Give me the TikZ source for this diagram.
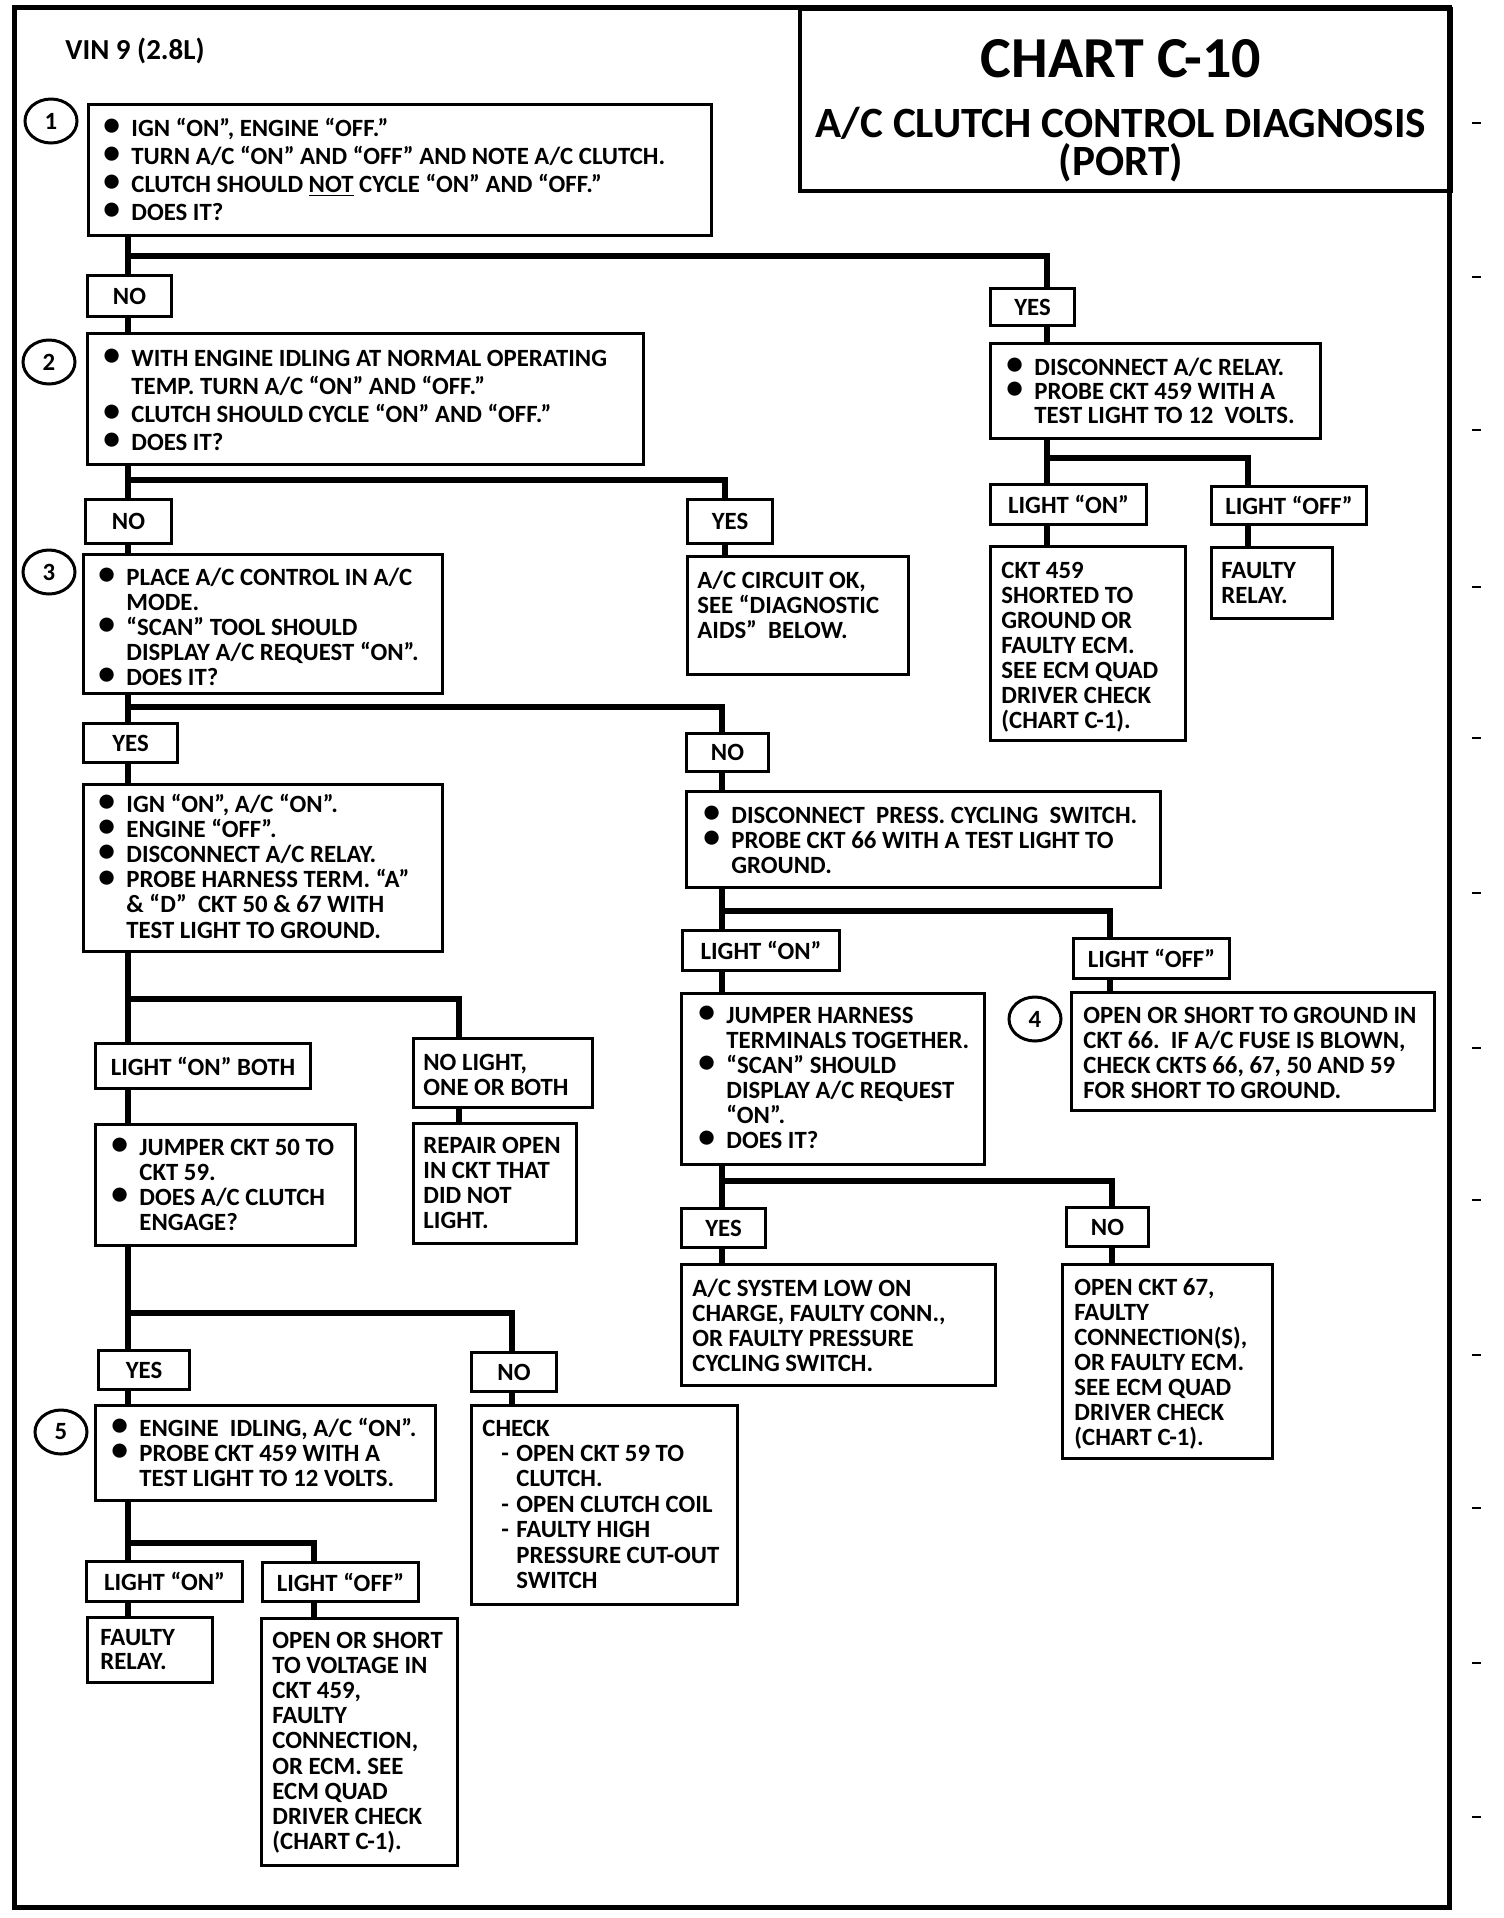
\documentclass[tikz,border=0pt]{standalone}
\usepackage{fontspec}
\setmainfont{Carlito}
\usepackage{graphicx}
\usetikzlibrary{shapes.geometric,calc}
\newcommand\bodyfont{\fontsize{12.4pt}{14pt}\selectfont\bfseries}
\newcommand\Ln[1]{\hbox{#1}}
\newcommand\lns[2]{\vtop{\baselineskip=#1\lineskiplimit=-30pt\lineskip=0pt\relax #2}}
\newcommand\bl{\makebox[14pt][l]{\raisebox{0.3pt}{\scalebox{1.35}{\textbullet}}}}
\newcommand\indd{\hspace*{14pt}}
\newcommand\dsh{\hspace*{9.5pt}\makebox[7.5pt][l]{-}}
\newcommand\dind{\hspace*{17pt}}
\newcommand\bx[5]{\node[box,minimum width={(#4-#2)*0.5pt},minimum height={(#5-#3)*0.5pt}] (#1) at (#2,#3) {};}
\newcommand\lbx[6]{\node[box,minimum width={(#4-#2)*0.5pt},minimum height={(#5-#3)*0.5pt}] (#1) at (#2,#3) {#6};}
\begin{document}
\begin{tikzpicture}[x=0.5pt,y=-0.5pt,
  box/.style={draw,line width=1.5pt,rectangle,inner sep=0pt,anchor=north west,font=\bodyfont},
  conn/.style={line width=3pt,line cap=rect},
  txt/.style={anchor=base west,inner sep=0pt,font=\bodyfont},
  num/.style={draw,line width=1.5pt,ellipse,inner sep=0pt,minimum width=26pt,minimum height=22pt,font=\bodyfont}]
\useasboundingbox[fill=white] (0,0) rectangle (1504,1918);
\draw[line width=2.5pt] (14,7) rectangle (1449,1907);
\foreach \yy in {123,277,430,587,738,893,1048,1200,1355,1508,1663,1817}
  \draw[line width=1pt] (1472,\yy) -- (1481,\yy);
% title
\node[draw,line width=2pt,rectangle,inner sep=0pt,anchor=north west,minimum width={(1449-798)*0.5pt},minimum height={(189-7)*0.5pt}] (title) at (798,7) {};
\node[anchor=base,inner sep=0pt,font=\fontsize{29pt}{30pt}\selectfont\bfseries] (t1) at (1121,77) {CHART C-10};
\node[anchor=base,inner sep=0pt,font=\fontsize{21.6pt}{22pt}\selectfont\bfseries] (t2) at (1121,137) {A/C CLUTCH CONTROL DIAGNOSIS};
\node[anchor=base,inner sep=0pt,font=\fontsize{21.6pt}{22pt}\selectfont\bfseries] (t3) at (1121,175) {(PORT)};
\node[anchor=base west,inner sep=0pt,font=\fontsize{14.5pt}{15pt}\selectfont\bfseries] (vin) at (65,59) {VIN 9 (2.8L)};
% circles
\node[num] (c1) at (51,121) {1};
\node[num] (c2) at (49,362) {2};
\node[num] (c3) at (49,572) {3};
\node[num] (c4) at (1035,1019) {4};
\node[num] (c5) at (61,1432) {5};
% boxes
\bx{b1}{87}{103}{710}{234}
\node[txt] (b1t) at (103,136) {\lns{14pt}{%
 \Ln{\bl IGN “ON”, ENGINE “OFF.”}
 \Ln{\bl TURN A/C “ON” AND “OFF” AND NOTE A/C CLUTCH.}
 \Ln{\bl CLUTCH SHOULD \underline{NOT} CYCLE “ON” AND “OFF.”}
 \Ln{\bl DOES IT?}}};
\lbx{no1}{86}{274}{170}{315}{NO}
\lbx{yes1}{989}{287}{1073}{324}{YES}
\bx{r1}{989}{342}{1319}{437}
\node[txt] (r1t) at (1006,375) {\lns{12pt}{%
 \Ln{\bl DISCONNECT A/C RELAY.}
 \Ln{\bl PROBE CKT 459 WITH A}
 \Ln{\indd TEST LIGHT TO 12\ \ VOLTS.}}};
\lbx{r1on}{989}{483}{1145}{523}{LIGHT “ON”}
\lbx{r1off}{1210}{485}{1365}{523}{LIGHT “OFF”}
\bx{r1ckt}{989}{545}{1184}{739}
\node[txt] (r1ckt-t) at (1001,578) {\lns{12.5pt}{%
 \Ln{CKT 459}\Ln{SHORTED TO}\Ln{GROUND OR}\Ln{FAULTY ECM.}
 \Ln{SEE ECM QUAD}\Ln{DRIVER CHECK}\Ln{(CHART C-1).}}};
\bx{r1rel}{1210}{546}{1331}{617}
\node[txt] (r1rel-t) at (1221,578) {\lns{12.5pt}{\Ln{FAULTY}\Ln{RELAY.}}};
\bx{b2}{86}{332}{642}{463}
\node[txt] (b2t) at (103,366) {\lns{14pt}{%
 \Ln{\bl WITH ENGINE IDLING AT NORMAL OPERATING}
 \Ln{\indd TEMP. TURN A/C “ON” AND “OFF.”}
 \Ln{\bl CLUTCH SHOULD CYCLE “ON” AND “OFF.”}
 \Ln{\bl DOES IT?}}};
\lbx{no2}{84}{498}{170}{542}{NO}
\lbx{yes2}{686}{498}{771}{542}{YES}
\bx{okbox}{686}{555}{907}{673}
\node[txt] (okt) at (697,588) {\lns{12.5pt}{%
 \Ln{A/C CIRCUIT OK,}\Ln{SEE “DIAGNOSTIC}\Ln{AIDS”\ \ BELOW.}}};
\bx{b3}{82}{553}{441}{692}
\node[txt] (b3t) at (98,585) {\lns{12.5pt}{%
 \Ln{\bl PLACE A/C CONTROL IN A/C}
 \Ln{\indd MODE.}
 \Ln{\bl “SCAN” TOOL SHOULD}
 \Ln{\indd DISPLAY A/C REQUEST “ON”.}
 \Ln{\bl DOES IT?}}};
\lbx{yes3}{82}{722}{176}{761}{YES}
\lbx{no3}{685}{732}{767}{770}{NO}
\bx{b4}{82}{783}{441}{950}
\node[txt] (b4t) at (98,812) {\lns{12.6pt}{%
 \Ln{\bl IGN “ON”, A/C “ON”.}
 \Ln{\bl ENGINE “OFF”.}
 \Ln{\bl DISCONNECT A/C RELAY.}
 \Ln{\bl PROBE HARNESS TERM. “A”}
 \Ln{\indd \& “D”\ \ CKT 50 \& 67 WITH}
 \Ln{\indd TEST LIGHT TO GROUND.}}};
\bx{dpress}{685}{790}{1159}{886}
\node[txt] (dpt) at (703,823) {\lns{12.5pt}{%
 \Ln{\bl DISCONNECT\ \ PRESS. CYCLING\ \ SWITCH.}
 \Ln{\bl PROBE CKT 66 WITH A TEST LIGHT TO}
 \Ln{\indd GROUND.}}};
\lbx{on2}{681}{929}{838}{969}{LIGHT “ON”}
\lbx{off2}{1072}{937}{1228}{977}{LIGHT “OFF”}
\bx{jh}{680}{992}{983}{1163}
\node[txt] (jht) at (698,1023) {\lns{12.5pt}{%
 \Ln{\bl JUMPER HARNESS}
 \Ln{\indd TERMINALS TOGETHER.}
 \Ln{\bl “SCAN” SHOULD}
 \Ln{\indd DISPLAY A/C REQUEST}
 \Ln{\indd “ON”.}
 \Ln{\bl DOES IT?}}};
\bx{osg}{1070}{991}{1433}{1109}
\node[txt] (osgt) at (1083,1023) {\lns{12.5pt}{%
 \Ln{OPEN OR SHORT TO GROUND IN}
 \Ln{CKT 66.\ \ IF A/C FUSE IS BLOWN,}
 \Ln{CHECK CKTS 66, 67, 50 AND 59}
 \Ln{FOR SHORT TO GROUND.}}};
\lbx{yes4}{680}{1207}{764}{1246}{YES}
\lbx{no4}{1065}{1206}{1147}{1245}{NO}
\bx{acsys}{680}{1263}{994}{1384}
\node[txt] (acst) at (692,1296) {\lns{12.5pt}{%
 \Ln{A/C SYSTEM LOW ON}\Ln{CHARGE, FAULTY CONN.,}
 \Ln{OR FAULTY PRESSURE}\Ln{CYCLING SWITCH.}}};
\bx{ock}{1061}{1263}{1271}{1457}
\node[txt] (ockt) at (1074,1295) {\lns{12.5pt}{%
 \Ln{OPEN CKT 67,}\Ln{FAULTY}\Ln{CONNECTION(S),}\Ln{OR FAULTY ECM.}
 \Ln{SEE ECM QUAD}\Ln{DRIVER CHECK}\Ln{(CHART C-1).}}};
\lbx{onboth}{94}{1042}{309}{1087}{LIGHT “ON” BOTH}
\bx{nolight}{412}{1037}{591}{1106}
\node[txt] (nolt) at (423,1070) {\lns{12.5pt}{\Ln{NO LIGHT,}\Ln{ONE OR BOTH}}};
\bx{repair}{412}{1122}{575}{1242}
\node[txt] (rept) at (423,1153) {\lns{12.5pt}{%
 \Ln{REPAIR OPEN}\Ln{IN CKT THAT}\Ln{DID NOT}\Ln{LIGHT.}}};
\bx{jckt}{94}{1123}{354}{1244}
\node[txt] (jcktt) at (111,1155) {\lns{12.5pt}{%
 \Ln{\bl JUMPER CKT 50 TO}
 \Ln{\indd CKT 59.}
 \Ln{\bl DOES A/C CLUTCH}
 \Ln{\indd ENGAGE?}}};
\lbx{yes5}{97}{1349}{188}{1388}{YES}
\lbx{no5}{470}{1351}{555}{1390}{NO}
\bx{b5}{94}{1404}{434}{1499}
\node[txt] (b5t) at (111,1436) {\lns{12.5pt}{%
 \Ln{\bl ENGINE\ \ IDLING, A/C “ON”.}
 \Ln{\bl PROBE CKT 459 WITH A}
 \Ln{\indd TEST LIGHT TO 12 VOLTS.}}};
\bx{check}{470}{1404}{736}{1603}
\node[txt] (checkt) at (482,1436) {\lns{12.7pt}{%
 \Ln{CHECK}
 \Ln{\dsh OPEN CKT 59 TO}
 \Ln{\dind CLUTCH.}
 \Ln{\dsh OPEN CLUTCH COIL}
 \Ln{\dsh FAULTY HIGH}
 \Ln{\dind PRESSURE CUT-OUT}
 \Ln{\dind SWITCH}}};
\lbx{on3}{85}{1560}{241}{1600}{LIGHT “ON”}
\lbx{off3}{261}{1561}{417}{1600}{LIGHT “OFF”}
\bx{rel3}{86}{1616}{211}{1681}
\node[txt] (rel3t) at (100,1645) {\lns{12pt}{\Ln{FAULTY}\Ln{RELAY.}}};
\bx{osv}{260}{1617}{456}{1864}
\node[txt] (osvt) at (272,1648) {\lns{12.6pt}{%
 \Ln{OPEN OR SHORT}\Ln{TO VOLTAGE IN}\Ln{CKT 459,}\Ln{FAULTY}
 \Ln{CONNECTION,}\Ln{OR ECM. SEE}\Ln{ECM QUAD}\Ln{DRIVER CHECK}\Ln{(CHART C-1).}}};
% connectors
\coordinate (j1) at (128,256); \coordinate (k1) at (1047,256);
\draw[conn] (b1.south -| j1) -- (no1.north -| j1);
\draw[conn] (j1) -- (k1) -- (yes1.north -| k1);
\draw[conn] (no1.south -| j1) -- (b2.north -| j1);
\draw[conn] (yes1.south -| k1) -- (r1.north -| k1);
\coordinate (j2) at (128,480); \coordinate (k2) at (725,480);
\draw[conn] (b2.south -| j2) -- (no2.north -| j2);
\draw[conn] (j2) -- (k2) -- (yes2.north -| k2);
\draw[conn] (no2.south -| j2) -- (b3.north -| j2);
\draw[conn] (yes2.south -| k2) -- (okbox.north -| k2);
\coordinate (j3) at (128,707); \coordinate (k3) at (722,707);
\draw[conn] (b3.south -| j3) -- (yes3.north -| j3);
\draw[conn] (j3) -- (k3) -- (no3.north -| k3);
\draw[conn] (yes3.south -| j3) -- (b4.north -| j3);
\draw[conn] (no3.south -| k3) -- (dpress.north -| k3);
\coordinate (j4) at (1047,458); \coordinate (k4) at (1248,458);
\draw[conn] (r1.south -| j4) -- (r1on.north -| j4);
\draw[conn] (j4) -- (k4) -- (r1off.north -| k4);
\draw[conn] (r1on.south -| j4) -- (r1ckt.north -| j4);
\draw[conn] (r1off.south -| k4) -- (r1rel.north -| k4);
\coordinate (j5) at (722,911); \coordinate (k5) at (1110,911);
\draw[conn] (dpress.south -| j5) -- (on2.north -| j5);
\draw[conn] (j5) -- (k5) -- (off2.north -| k5);
\draw[conn] (on2.south -| j5) -- (jh.north -| j5);
\draw[conn] (off2.south -| k5) -- (osg.north -| k5);
\coordinate (j6) at (722,1181); \coordinate (k6) at (1112,1181);
\draw[conn] (jh.south -| j6) -- (yes4.north -| j6);
\draw[conn] (j6) -- (k6) -- (no4.north -| k6);
\draw[conn] (yes4.south -| j6) -- (acsys.north -| j6);
\draw[conn] (no4.south -| k6) -- (ock.north -| k6);
\coordinate (j7) at (128,999); \coordinate (k7) at (459,999);
\draw[conn] (b4.south -| j7) -- (onboth.north -| j7);
\draw[conn] (j7) -- (k7) -- (nolight.north -| k7);
\draw[conn] (onboth.south -| j7) -- (jckt.north -| j7);
\draw[conn] (nolight.south -| k7) -- (repair.north -| k7);
\coordinate (j8) at (128,1313); \coordinate (k8) at (512,1313);
\draw[conn] (jckt.south -| j8) -- (yes5.north -| j8);
\draw[conn] (j8) -- (k8) -- (no5.north -| k8);
\draw[conn] (yes5.south -| j8) -- (b5.north -| j8);
\draw[conn] (no5.south -| k8) -- (check.north -| k8);
\coordinate (j9) at (128,1543); \coordinate (k9) at (314,1543);
\draw[conn] (b5.south -| j9) -- (on3.north -| j9);
\draw[conn] (j9) -- (k9) -- (off3.north -| k9);
\draw[conn] (on3.south -| j9) -- (rel3.north -| j9);
\draw[conn] (off3.south -| k9) -- (osv.north -| k9);
\end{tikzpicture}
\end{document}
